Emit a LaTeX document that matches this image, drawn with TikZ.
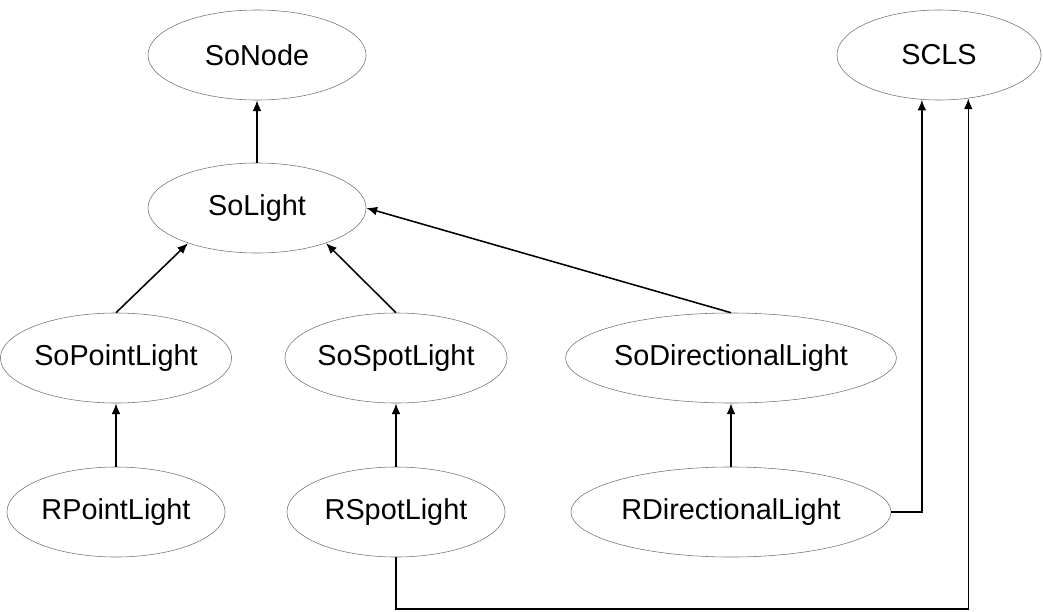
\documentclass[tikz,border=0pt]{standalone}
\usepackage{fontspec}
\setmainfont{Liberation Sans}
\usepackage{tikz}
\usetikzlibrary{
  shapes,       % Shape "ellipse"
  arrows.meta,
}
\def\myrowa{55}
\def\myrowb{208}
\def\myrowc{358}
\def\myrowd{512}
\tikzset{
  font=\fontsize{20.5}{24}\selectfont,
  >={Latex[length=2.7mm,width=2.2mm]},
  my class/.style={
    draw=black!55,
    thin,
    ellipse,
    inner sep=0mm,
    minimum width=5.45cm,
    minimum height=2.25cm
  },
  my class wide/.style={
    my class,
    minimum width=8cm
  },
  inherit/.style={
    ->,
    line width=1.1pt
  }
}
\begin{document}
\begin{tikzpicture}[x=0.025cm,y=-0.025cm]
\useasboundingbox (0,0) rectangle (1043,611);
\node[my class] (SoNode) at (257,\myrowa) {SoNode};
\node[my class,minimum width=5.1cm] (SCLS) at (939,\myrowa) {SCLS};
\node[my class] (SoLight) at (257,\myrowb) {SoLight};
\node[my class] (SoPointLight) at (116,\myrowc) {SoPointLight};
\node[my class] (SoSpotLight) at (396,\myrowc) {SoSpotLight};
\node[my class wide] (SoDirectionalLight) at (731,\myrowc) {SoDirectionalLight};
\node[my class] (RPointLight) at (116,\myrowd) {RPointLight};
\node[my class] (RSpotLight) at (396,\myrowd) {RSpotLight};
\node[my class wide] (RDirectionalLight) at (731,\myrowd) {RDirectionalLight};
% inheritance
\draw[inherit] (SoLight) -- (SoNode);
\draw[inherit] (SoPointLight.north) -- (SoLight.207);
\draw[inherit] (SoSpotLight.north) -- (SoLight.333);
\draw[inherit] (SoDirectionalLight.north) -- (SoLight.east);
\draw[inherit] (RPointLight) -- (SoPointLight);
\draw[inherit] (RSpotLight) -- (SoSpotLight);
\draw[inherit] (RDirectionalLight) -- (SoDirectionalLight);
% SCLS
\draw[inherit] (RDirectionalLight.east) -| (SCLS.249);
\path (0,609) coordinate (bottom);
\coordinate (bend) at (SCLS.304 |- bottom);
\draw[inherit] (RSpotLight.south) |- (bend) -- (SCLS.304);
\end{tikzpicture}
\end{document}
